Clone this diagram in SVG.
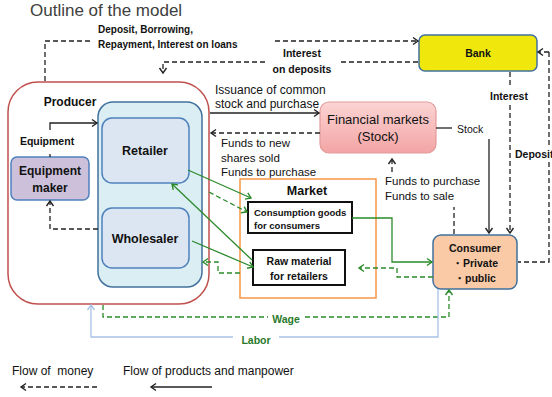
<svg xmlns="http://www.w3.org/2000/svg" width="552" height="397" viewBox="0 0 552 397">
<style>
text{font-family:"Liberation Sans",Arial,sans-serif;fill:#111}
.b{font-weight:bold}
.c{text-anchor:middle}
.dk{fill:none;stroke:#222;stroke-width:1.3;stroke-dasharray:5 3}
.sk{fill:none;stroke:#222;stroke-width:1.3}
.gs{fill:none;stroke:#2a8a2a;stroke-width:1.3}
.gd{fill:none;stroke:#2a8a2a;stroke-width:1.3;stroke-dasharray:5 3}
.lb{fill:none;stroke:#a9c2e6;stroke-width:1.3}
.gt{fill:#2a7a2a;font-weight:bold}
</style>
<defs>
<marker id="ak" markerWidth="10" markerHeight="10" refX="7" refY="5" orient="auto" markerUnits="userSpaceOnUse"><path d="M2,1.5 L7,5 L2,8.5" fill="none" stroke="#222" stroke-width="1.4"/></marker>
<marker id="ag" markerWidth="10" markerHeight="10" refX="7" refY="5" orient="auto" markerUnits="userSpaceOnUse"><path d="M2,1.5 L7,5 L2,8.5" fill="none" stroke="#2a8a2a" stroke-width="1.4"/></marker>
<marker id="ab" markerWidth="10" markerHeight="10" refX="7" refY="5" orient="auto" markerUnits="userSpaceOnUse"><path d="M2,1.5 L7,5 L2,8.5" fill="none" stroke="#a9c2e6" stroke-width="1.4"/></marker>
<linearGradient id="fm" x1="0" y1="0" x2="0" y2="1"><stop offset="0" stop-color="#fcd4d4"/><stop offset="1" stop-color="#f3a4a4"/></linearGradient>
</defs>
<rect width="552" height="397" fill="#fff"/>
<text x="30" y="15.5" style="font-size:17px;fill:#404040">Outline of the model</text>

<g id="producer">
<rect x="8" y="82" width="201" height="222" rx="30" fill="#fff" stroke="#c0504d" stroke-width="1.5"/>
<text x="70" y="106" class="b c" style="font-size:12px">Producer</text>
</g>
<g id="producer-inner">
<rect x="98" y="102" width="104" height="185" rx="15" fill="#dbeef4" stroke="#41719c" stroke-width="1.5"/>
</g>
<g id="retailer">
<rect x="102" y="118" width="87" height="65" rx="10" fill="#dce6f2" stroke="#4f81bd" stroke-width="1.5"/>
<text x="145" y="155" class="b c" style="font-size:12.5px">Retailer</text>
</g>
<g id="wholesaler">
<rect x="102" y="208" width="87" height="60" rx="10" fill="#dce6f2" stroke="#4f81bd" stroke-width="1.5"/>
<text x="145" y="243" class="b c" style="font-size:12.5px">Wholesaler</text>
</g>
<g id="equipment-maker">
<rect x="11" y="157" width="78" height="43" rx="6" fill="#ccc0da" stroke="#4f81bd" stroke-width="1.5"/>
<text x="50" y="175" class="b c" style="font-size:12px">Equipment</text>
<text x="50" y="192" class="b c" style="font-size:12px">maker</text>
</g>
<g id="bank">
<rect x="419" y="35" width="118" height="36" rx="6" fill="#f0e80c" stroke="#41719c" stroke-width="1.5"/>
<text x="478" y="57" class="b c" style="font-size:10.5px">Bank</text>
</g>
<g id="financial-markets">
<rect x="320" y="102" width="116" height="51" rx="9" fill="url(#fm)" stroke="#e19b9b" stroke-width="1.2"/>
<text x="378" y="124" class="c" style="font-size:13px">Financial markets</text>
<text x="378" y="141" class="c" style="font-size:13px">(Stock)</text>
</g>
<g id="market">
<rect x="240" y="179" width="136" height="119" fill="#fff" stroke="#f79646" stroke-width="1.5"/>
<text x="307" y="195" class="b c" style="font-size:12.5px">Market</text>
</g>
<g id="consumption-goods">
<rect x="248" y="202" width="104" height="31" fill="#fff" stroke="#111" stroke-width="2"/>
<text x="254" y="216" class="b" style="font-size:9.5px">Consumption goods</text>
<text x="254" y="229" class="b" style="font-size:9.5px">for consumers</text>
</g>
<g id="raw-material">
<rect x="253" y="250" width="92" height="35" fill="#fff" stroke="#111" stroke-width="2"/>
<text x="299" y="265" class="b c" style="font-size:10.5px">Raw material</text>
<text x="299" y="280" class="b c" style="font-size:10.5px">for retailers</text>
</g>
<g id="consumer">
<rect x="433" y="235" width="84" height="54" rx="8" fill="#fac9a6" stroke="#41719c" stroke-width="1.5"/>
<text x="475" y="252" class="b c" style="font-size:10.5px">Consumer</text>
<text x="475" y="267" class="b c" style="font-size:10.5px">・Private</text>
<text x="475" y="282" class="b c" style="font-size:10.5px">・public</text>
</g>

<g id="connectors">
<path class="dk" d="M45,81 V41 H93"/>
<path class="dk" d="M275,41 H418" marker-end="url(#ak)"/>
<path class="dk" d="M418,62 H339"/>
<path class="dk" d="M265,62 H163 V73" marker-end="url(#ak)"/>
<path class="dk" d="M549,52 H538" marker-end="url(#ak)"/>
<path class="dk" d="M549,52 V147"/>
<path class="dk" d="M549,162 V262 H518"/>
<path class="dk" d="M510,72 V88"/>
<path class="dk" d="M510,105 V233" marker-end="url(#ak)"/>
<path class="sk" d="M436,128 H452"/>
<path class="sk" d="M489,139 V233" marker-end="url(#ak)"/>
<path class="dk" d="M454,234 V207"/>
<path class="dk" d="M392,172 V159" marker-end="url(#ak)"/>
<path class="sk" d="M210,113 H319" marker-end="url(#ak)"/>
<path class="dk" d="M320,133 H211" marker-end="url(#ak)"/>
<path class="sk" d="M50,130 V123 H97" marker-end="url(#ak)"/>
<path class="sk" d="M50,157 V154"/>
<path class="dk" d="M98,229 H50 V201" marker-end="url(#ak)"/>
<path class="gs" d="M188,170 L251,198" marker-end="url(#ag)"/>
<path class="gd" d="M209,192 L247,212" marker-end="url(#ag)"/>
<path class="gs" d="M252,260 L172,184" marker-end="url(#ag)"/>
<path class="gs" d="M192,241 L253,267" marker-end="url(#ag)"/>
<path class="gd" d="M240,273 H218 V262 H203" marker-end="url(#ag)"/>
<path class="gs" d="M352,218 H392 V262 H432" marker-end="url(#ag)"/>
<path class="gd" d="M433,277 H397 V268 H359" marker-end="url(#ag)"/>
<path class="gd" d="M103,305 V317 H268"/>
<path class="gd" d="M305,317 H449 V290" marker-end="url(#ag)"/>
<path class="lb" d="M438,289 V337 H279"/>
<path class="lb" d="M233,337 H91 V305" marker-end="url(#ab)"/>
<path class="dk" d="M97,387 H21" marker-end="url(#ak)"/>
<path class="sk" d="M212,387 H151" marker-end="url(#ak)"/>
</g>

<g id="labels">
<text x="98" y="33" class="b" style="font-size:10px">Deposit, Borrowing,</text>
<text x="98" y="48" class="b" style="font-size:10px">Repayment, Interest on loans</text>
<text x="302" y="57" class="b c" style="font-size:10.5px">Interest</text>
<text x="302" y="73" class="b c" style="font-size:10.5px">on deposits</text>
<text x="509" y="100" class="b c" style="font-size:10.5px">Interest</text>
<text x="515" y="158" class="b" style="font-size:10.5px">Deposit</text>
<text x="457" y="133" style="font-size:10.5px">Stock</text>
<text x="215" y="94" style="font-size:12px">Issuance of common</text>
<text x="215" y="108" style="font-size:12px">stock and purchase</text>
<text x="221" y="147" style="font-size:11.5px">Funds to new</text>
<text x="221" y="162" style="font-size:11.5px">shares sold</text>
<text x="221" y="176" style="font-size:11.5px">Funds to purchase</text>
<text x="385" y="185" style="font-size:11.5px">Funds to purchase</text>
<text x="385" y="200" style="font-size:11.5px">Funds to sale</text>
<text x="47" y="145" class="b c" style="font-size:10.5px">Equipment</text>
<text x="286" y="323" class="gt c" style="font-size:10.5px">Wage</text>
<text x="256" y="344" class="gt c" style="font-size:10.5px">Labor</text>
<text x="12" y="375" style="font-size:12px" xml:space="preserve">Flow of  money</text>
<text x="123" y="375" style="font-size:12px">Flow of products and manpower</text>
</g>
</svg>
